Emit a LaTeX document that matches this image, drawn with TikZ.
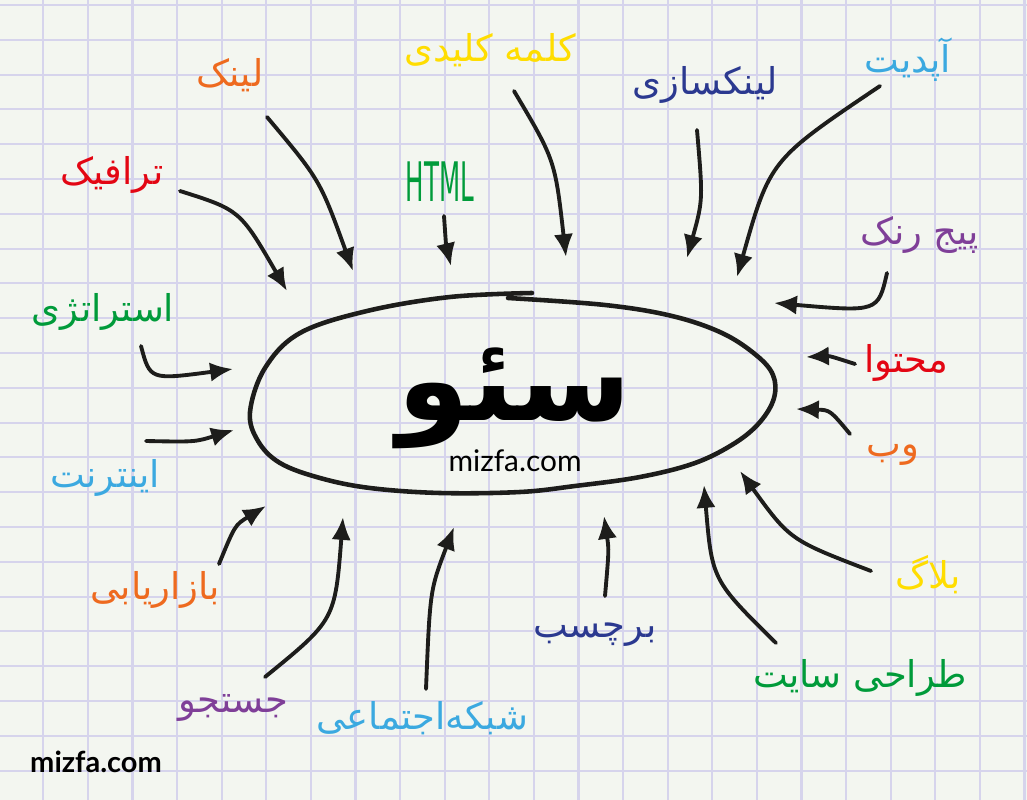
\documentclass[tikz,border=0pt]{standalone}
\usepackage{fontspec}
\usepackage{xcolor}
\usepackage{tikz}
\usetikzlibrary{arrows.meta}
\TeXXeTstate=1
\newfontfamily\fafont[Script=Arabic]{DejaVu Sans}
\newfontfamily\sitefont{Lato}
\newfontfamily\htmlfont[FakeStretch=0.45]{DejaVu Sans}

\definecolor{paper}{HTML}{F3F6F0}
\definecolor{gridline}{HTML}{D6D4EC}
\definecolor{ink}{HTML}{1D1D1B}
\definecolor{penorange}{HTML}{EE6A1F}
\definecolor{penred}{HTML}{E30613}
\definecolor{penyellow}{HTML}{FFDD00}
\definecolor{pengreen}{HTML}{009B3A}
\definecolor{pennavy}{HTML}{2B3990}
\definecolor{pensky}{HTML}{3BA9E0}
\definecolor{penpurple}{HTML}{7F3F98}

\begin{document}
\begin{tikzpicture}[x=0.02cm, y=-0.02cm, >={Latex[length=13pt,width=11pt]},
  word/.style={font=\fafont\fontsize{21}{25}\selectfont, inner sep=0pt},
  arr/.style={->, draw=ink, line width=2.2pt, line cap=round}]
% paper
\fill[paper] (0,0) rectangle (1027,800);
\useasboundingbox (0,0) rectangle (1027,800);
\foreach \i in {0,...,22}
  \draw[gridline, line width=1.2pt] ({43.3+44.6*\i},0) -- ({43.3+44.6*\i},800);
\foreach \j in {0,...,22}
  \draw[gridline, line width=1.2pt] (0,{5+34.8*\j}) -- (1027,{5+34.8*\j});

% the loop round the title
\draw[ink, line width=2.6pt, line cap=round] plot[smooth, tension=0.6] coordinates {
  (532,293) (450,297) (367,311) (300,333) (265,368) (250,412) (258,441)
  (280,463) (320,478) (370,488) (440,493) (520,492) (575,486) (640,477)
  (695,463) (735,443) (760,422) (774,398) (773,375) (756,355) (722,333)
  (672,316) (605,305) (508,298)};

\node[font=\fafont\bfseries\fontsize{66}{74}\selectfont, text=black, inner sep=0pt] (seo) at (515,398) {\beginR سئو\endR};
\node[font=\sitefont\fontsize{17}{20}\selectfont, text=black] (site) at (515,461) {mizfa.com};
\node[font=\sitefont\bfseries\fontsize{16.5}{20}\selectfont, text=black] (brand) at (96,762) {mizfa.com};

% words
\node[word, text=penorange] (link) at (230,75) {\beginR لینک\endR};
\node[word, text=penred] (traffic) at (112,175) {\beginR ترافیک\endR};
\node[word, text=penyellow] (keyword) at (490,50) {\beginR کلمه کلیدی\endR};
\node[font=\htmlfont\fontsize{31}{34}\selectfont, text=pengreen, inner sep=0pt] (html) at (440,182) {HTML};
\node[word, text=pennavy] (linkbuild) at (705,85) {\beginR لینکسازی\endR};
\node[word, text=pensky] (update) at (908,60) {\beginR آپدیت\endR};
\node[word, text=penpurple] (pagerank) at (920,235) {\beginR پیج رنک\endR};
\node[word, text=pengreen] (strategy) at (103,312) {\beginR استراتژی\endR};
\node[word, text=penred] (content) at (906,363) {\beginR محتوا\endR};
\node[word, text=pensky] (internet) at (105,478) {\beginR اینترنت\endR};
\node[word, text=penorange] (web) at (893,455) {\beginR وب\endR};
\node[word, text=penorange] (marketing) at (155,590) {\beginR بازاریابی\endR};
\node[word, text=penyellow] (blog) at (928,575) {\beginR بلاگ\endR};
\node[word, text=pennavy] (tag) at (595,635) {\beginR برچسب\endR};
\node[word, text=penpurple] (search) at (233,708) {\beginR جستجو\endR};
\node[word, text=pensky] (social) at (422,718) {\beginR شبکه‌اجتماعی\endR};
\node[word, text=pengreen] (design) at (860,678) {\beginR طراحی سایت\endR};

% arrow tips at the loop
\coordinate (ttraffic) at (287,291);
\coordinate (tlink) at (353,271);
\coordinate (thtml) at (451,266);
\coordinate (tkeyword) at (566,257);
\coordinate (tlinkbuild) at (687,258);
\coordinate (tupdate) at (737,277);
\coordinate (tpagerank) at (774,303);
\coordinate (tcontent) at (806,357);
\coordinate (tweb) at (796,409);
\coordinate (tblog) at (740,471);
\coordinate (tdesign) at (704,485);
\coordinate (ttag) at (604,516);
\coordinate (tsocial) at (454,527);
\coordinate (tsearch) at (343,517);
\coordinate (tmarketing) at (266,506);
\coordinate (tinternet) at (234,430);
\coordinate (tstrategy) at (233,369);

\draw[arr] ([shift={(68,16)}]traffic.center) .. controls (240,210) .. (ttraffic);
\draw[arr] ([shift={(37,42)}]link.center) .. controls (320,180) .. (tlink);
\draw[arr] ([shift={(4,34)}]html.center) .. controls (446,245) .. (thtml);
\draw[arr] ([shift={(24,41)}]keyword.center) .. controls (555,160) .. (tkeyword);
\draw[arr] ([shift={(-8,45)}]linkbuild.center) .. controls (703,200) .. (tlinkbuild);
\draw[arr] ([shift={(-28,26)}]update.center) .. controls (770,160) .. (tupdate);
\draw[arr] ([shift={(-33,38)}]pagerank.center) .. controls (878,312) .. (tpagerank);
\draw[arr] ([shift={(-51,1)}]content.center) .. controls (830,356) .. (tcontent);
\draw[arr] ([shift={(-43,-21)}]web.center) .. controls (830,410) .. (tweb);
\draw[arr] ([shift={(-57,-4)}]blog.center) .. controls (790,540) .. (tblog);
\draw[arr] ([shift={(-84,-35)}]design.center) .. controls (712,580) .. (tdesign);
\draw[arr] ([shift={(10,-39)}]tag.center) .. controls (609,550) .. (ttag);
\draw[arr] ([shift={(4,-29)}]social.center) .. controls (430,590) .. (tsocial);
\draw[arr] ([shift={(32,-31)}]search.center) .. controls (335,620) .. (tsearch);
\draw[arr] ([shift={(64,-26)}]marketing.center) .. controls (235,525) .. (tmarketing);
\draw[arr] ([shift={(41,-37)}]internet.center) .. controls (195,442) .. (tinternet);
\draw[arr] ([shift={(38,34)}]strategy.center) .. controls (150,380) .. (tstrategy);
\end{tikzpicture}
\end{document}
